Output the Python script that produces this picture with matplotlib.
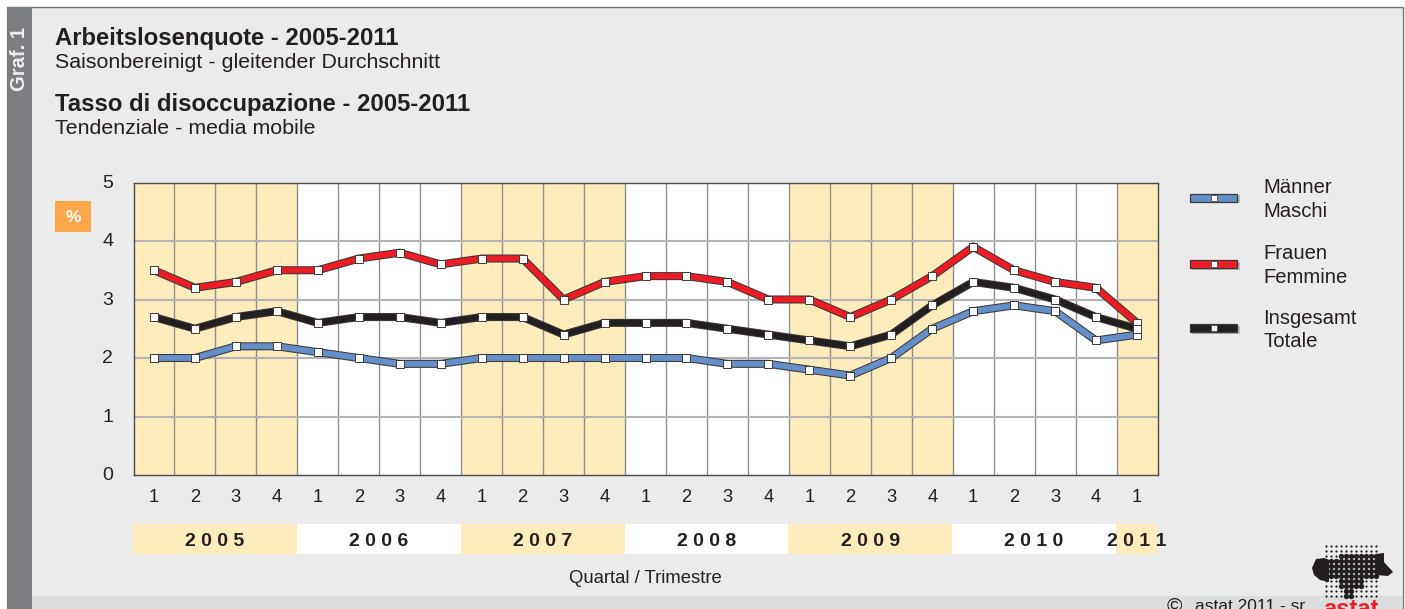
import numpy as np
import matplotlib
matplotlib.use("Agg")
import matplotlib.pyplot as plt
from matplotlib.patches import Rectangle, Polygon

W, H = 1405, 609
BG = "#eaebea"
YELLOW = "#feecbc"
SIDE = "#7d7e82"
DARK = "#231f20"

quarters = [1, 2, 3, 4] * 6 + [1]
years = ["2005", "2006", "2007", "2008", "2009", "2010", "2011"]
maenner = [2.0, 2.0, 2.2, 2.2, 2.1, 2.0, 1.9, 1.9, 2.0, 2.0, 2.0, 2.0, 2.0,
           2.0, 1.9, 1.9, 1.8, 1.7, 2.0, 2.5, 2.8, 2.9, 2.8, 2.3, 2.4]
frauen = [3.5, 3.2, 3.3, 3.5, 3.5, 3.7, 3.8, 3.6, 3.7, 3.7, 3.0, 3.3, 3.4,
          3.4, 3.3, 3.0, 3.0, 2.7, 3.0, 3.4, 3.9, 3.5, 3.3, 3.2, 2.6]
insgesamt = [2.7, 2.5, 2.7, 2.8, 2.6, 2.7, 2.7, 2.6, 2.7, 2.7, 2.4, 2.6, 2.6,
             2.6, 2.5, 2.4, 2.3, 2.2, 2.4, 2.9, 3.3, 3.2, 3.0, 2.7, 2.5]

series = [
    (maenner, "#648fc8", "Männer\nMaschi"),
    (frauen, "#ed1c24", "Frauen\nFemmine"),
    (insgesamt, DARK, "Insgesamt\nTotale"),
]

plt.rcParams["font.family"] = ["Liberation Sans", "DejaVu Sans"]
fig = plt.figure(figsize=(W / 100, H / 100), dpi=100, facecolor="white")

# pixel canvas for the page furniture
bg = fig.add_axes([0, 0, 1, 1])
bg.set_xlim(0, W)
bg.set_ylim(H, 0)
bg.axis("off")
bg.add_patch(Rectangle((7, 7), W - 9, H - 7, fc=BG, ec="#77787b", lw=1))
bg.add_patch(Rectangle((7, 7), 25, H - 7, fc=SIDE, ec="none"))
bg.add_patch(Rectangle((32, 596), W - 35, 13, fc="#dcddde", ec="none"))
bg.text(19.5, 59, "Graf. 1", rotation=90, color="#eeeeee", fontsize=14.5,
        fontweight="bold", ha="center", va="center")

bg.text(55, 39, "Arbeitslosenquote - 2005-2011", fontsize=17.2, fontweight="bold",
        color=DARK, va="center")
bg.text(55, 62.5, "Saisonbereinigt - gleitender Durchschnitt", fontsize=15.4,
        color=DARK, va="center")
bg.text(55, 105, "Tasso di disoccupazione - 2005-2011", fontsize=17.2, fontweight="bold",
        color=DARK, va="center")
bg.text(55, 128.5, "Tendenziale - media mobile", fontsize=15.4, color=DARK, va="center")

bg.add_patch(Rectangle((55, 201), 36, 31, fc="#fca74c", ec="none"))
bg.text(73, 218, "%", color="white", fontsize=12.5, fontweight="bold",
        ha="center", va="center")

# chart
ax = fig.add_axes([133.5 / W, 1 - 475 / H, 1024 / W, 292.5 / H])
ax.set_xlim(0, len(quarters))
ax.set_ylim(0, 5)
ax.set_facecolor("white")
for i in range(len(years)):
    start = i * 4
    if i % 2 == 0:
        ax.axvspan(start, min(start + 4, len(quarters)), color=YELLOW, lw=0, zorder=0)
ax.set_xticks(range(1, len(quarters)))
ax.set_yticks(range(1, 5))
ax.grid(True, color="#8e8f90", lw=1, zorder=1)
ax.grid(True, axis="y", color="#b3b3b3", lw=1.5, zorder=1)
ax.set_axisbelow(True)
ax.tick_params(length=0, labelbottom=False, labelleft=False)
for s in ax.spines.values():
    s.set_color("#4b4a48")
    s.set_linewidth(1.0)

x = np.arange(len(quarters)) + 0.5
for vals, col, _ in series:
    ax.plot(x, vals, color="#3a3839", lw=5.8, solid_joinstyle="miter",
            solid_capstyle="butt", zorder=3)
    ax.plot(x, vals, color=col, lw=4.3, solid_joinstyle="miter",
            solid_capstyle="butt", zorder=4)
    ax.plot(x, vals, ls="none", marker="s", ms=5.2, mfc="white", mec="#3a3839",
            mew=0.7, zorder=5)

# y and quarter labels
for v in range(6):
    ax.annotate(str(v), (0, v), xytext=(-14.5, -0.7), textcoords="offset points",
                ha="right", va="center", fontsize=14, color=DARK,
                annotation_clip=False)
for xi, q in zip(x, quarters):
    ax.annotate(str(q), (xi, 0), xytext=(0, -16), textcoords="offset points",
                ha="center", va="center", fontsize=13.2, color=DARK,
                annotation_clip=False)

# year band
step = 1024 / len(quarters)
for i, y in enumerate(years):
    n = 4 if i < 6 else 1
    x0 = 133 + i * 4 * step
    bg.add_patch(Rectangle((x0, 524), n * step, 30,
                           fc=YELLOW if i % 2 == 0 else "white", ec="none"))
    cx = x0 + 2 * step if i < 6 else 1137
    bg.text(cx, 541, " ".join(y), fontsize=14, fontweight="bold", color=DARK,
            ha="center", va="center", zorder=5)
bg.text(645.5, 578.5, "Quartal / Trimestre", fontsize=13.3, color=DARK,
        ha="center", va="center")

# legend
for (vals, col, label), ly, ty in zip(series, [197.5, 264, 328], [199.5, 265.5, 330]):
    bg.add_patch(Rectangle((1192, ly - 2.5), 48, 8, fc="#b5b6b8", ec="none"))
    bg.add_patch(Rectangle((1190, ly - 4), 47, 8, fc=col, ec="#3a3839", lw=0.9))
    bg.plot([1213.5], [ly], marker="s", ms=4.6, mfc="white", mec="#3a3839", mew=0.5)
    bg.text(1263, ty, label, fontsize=14.6, color=DARK, va="center",
            linespacing=1.3)

# logo: dot raster with the province shape on top
gx, gy = np.meshgrid(np.arange(1326, 1378, 5.05), np.arange(546, 597, 5.05))
bg.scatter(gx.ravel(), gy.ravel(), s=2.6, color=DARK, lw=0)
mask = (gy > 552) & (gy < 581) & (gx > 1337)
mask |= (gy > 559) & (gy < 581)
mask |= (gy >= 581) & (gy < 589) & (gx > 1339) & (gx < 1364)
mask |= (gy >= 589) & (gx > 1343) & (gx < 1352)
bg.scatter(gx[mask], gy[mask], s=15, color=DARK, lw=0)
bg.add_patch(Polygon([(1312, 568), (1316, 559), (1325, 558), (1329, 563), (1329, 582),
                      (1320, 580), (1314, 575)], fc=DARK, ec="none"))
bg.add_patch(Polygon([(1376, 554), (1384, 553), (1384, 562), (1393, 572), (1388, 576),
                      (1376, 575)], fc=DARK, ec="none"))

bg.text(1167, 606, "©", fontsize=15, color=DARK, va="center")
bg.text(1195, 606.5, "astat 2011 - sr.", fontsize=12.5, color=DARK, va="center")
bg.text(1351, 609, "astat", fontsize=17, fontweight="bold", color="#ed1c24",
        ha="center", va="center")

fig.savefig("out.png", dpi=100, facecolor="white")
